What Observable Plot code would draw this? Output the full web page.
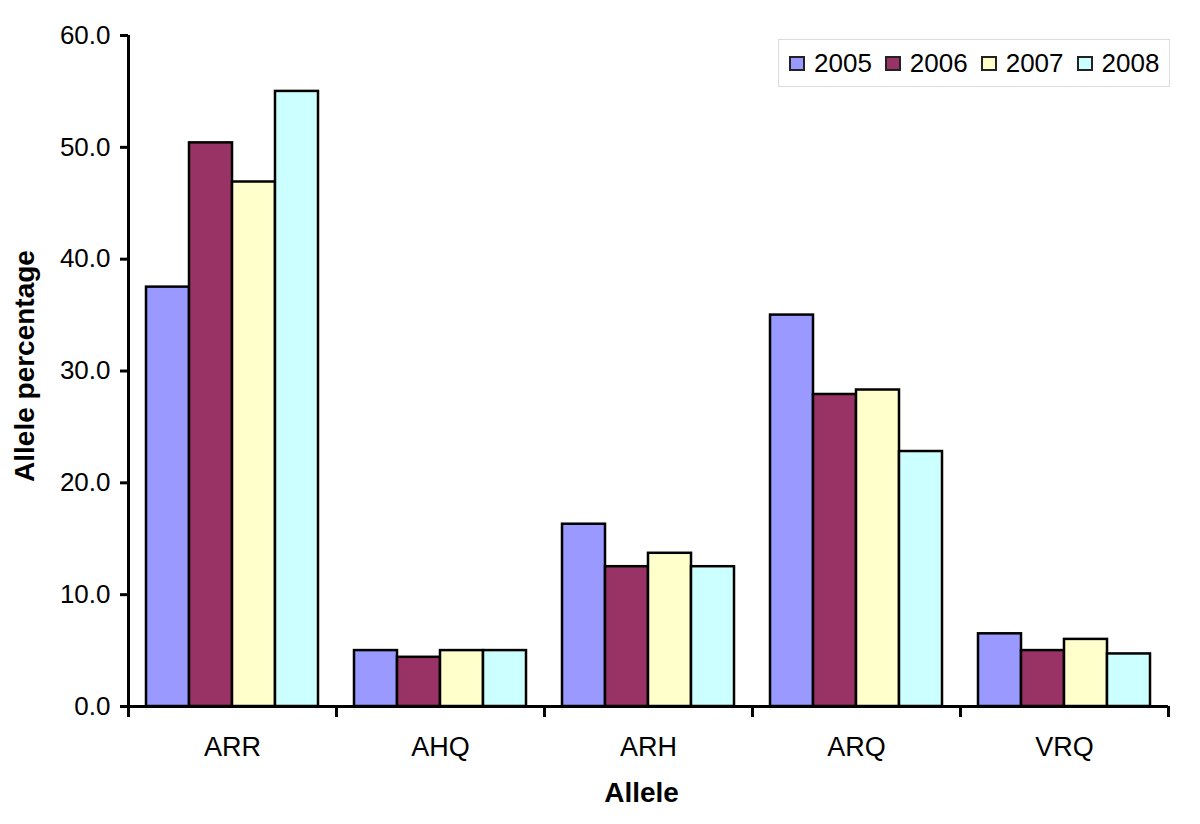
<!DOCTYPE html>
<html><head><meta charset="utf-8">
<script src="https://cdn.jsdelivr.net/npm/d3@7"></script>
<script src="https://cdn.jsdelivr.net/npm/@observablehq/plot@0.6"></script>
<style>
body{margin:0;background:#fff;font-family:"Liberation Sans",Arial,sans-serif;}
#wrap{position:relative;width:1200px;height:824px;}
#legend{position:absolute;left:778px;top:39px;width:392px;height:48px;border:1px solid #dcdcdc;box-sizing:border-box;display:flex;align-items:center;padding-left:10px;font-size:26px;color:#000;}
.item{display:flex;align-items:center;margin-right:13px;}
.sw{width:16px;height:15px;border:2px solid #222;box-sizing:border-box;margin-right:9px;}
</style></head><body>
<div id="wrap"><div id="chart"></div><div id="legend"></div></div>
<script>
const alleles = ["ARR", "AHQ", "ARH", "ARQ", "VRQ"];
const years = ["2005", "2006", "2007", "2008"];
const v2005 = [37.5, 5.0, 16.3, 35.0, 6.5];
const v2006 = [50.4, 4.4, 12.5, 27.9, 5.0];
const v2007 = [46.9, 5.0, 13.7, 28.3, 6.0];
const v2008 = [55.0, 5.0, 12.5, 22.8, 4.7];
const yTicks = [0, 10, 20, 30, 40, 50, 60];
const colors = ["#9999ff", "#993366", "#ffffcc", "#ccffff"];

const series = [v2005, v2006, v2007, v2008];
const groupPad = 18 / 208;
const barW = (1 - 2 * groupPad) / years.length;
const table = [];
alleles.forEach((a, i) => {
  series.forEach((s, j) => {
    table.push({allele: a, year: years[j], value: s[i],
      x1: i + groupPad + j * barW, x2: i + groupPad + (j + 1) * barW});
  });
});

const chart = Plot.plot({
  width: 1200, height: 824,
  marginLeft: 128, marginRight: 32, marginTop: 35, marginBottom: 118,
  x: {domain: [0, alleles.length]},
  y: {domain: [0, 60]},
  color: {domain: years, range: colors},
  style: {fontFamily: "'Liberation Sans', Arial, sans-serif", fontSize: "26px", color: "#000", background: "#fff"},
  marks: [
    Plot.rectY(table, {x1: "x1", x2: "x2", y1: 0, y2: "value", fill: "year", stroke: "#000", strokeWidth: 2.5}),
    Plot.axisY({ticks: yTicks, tickFormat: () => "", tickSize: 8, strokeWidth: 3, label: null}),
    Plot.text(yTicks, {x: 0, y: d => d, text: d => d.toFixed(1), textAnchor: "end", dx: -18, fontSize: 26}),
    Plot.axisX({ticks: d3.range(alleles.length + 1), tickFormat: () => "", tickSize: 11, strokeWidth: 3, label: null}),
    Plot.text(alleles, {x: (d, i) => i + 0.5, y: 0, text: d => d, dy: 30, lineAnchor: "top", fontSize: 27}),
    Plot.ruleX([0], {strokeWidth: 3}),
    Plot.ruleY([0], {strokeWidth: 3}),
    Plot.text(["Allele percentage"], {frameAnchor: "left", rotate: -90, dx: -103, dy: -5, textAnchor: "middle", lineAnchor: "middle", fontSize: 28, fontWeight: "bold"}),
    Plot.text(["Allele"], {frameAnchor: "bottom", dy: 76, dx: -7, textAnchor: "middle", lineAnchor: "top", fontSize: 28, fontWeight: "bold"})
  ]
});
document.getElementById("chart").appendChild(chart);

const legend = d3.select("#legend");
years.forEach((y, j) => {
  const it = legend.append("div").attr("class", "item");
  it.append("div").attr("class", "sw").style("background", colors[j]);
  it.append("span").text(y);
});
</script>
</body></html>
